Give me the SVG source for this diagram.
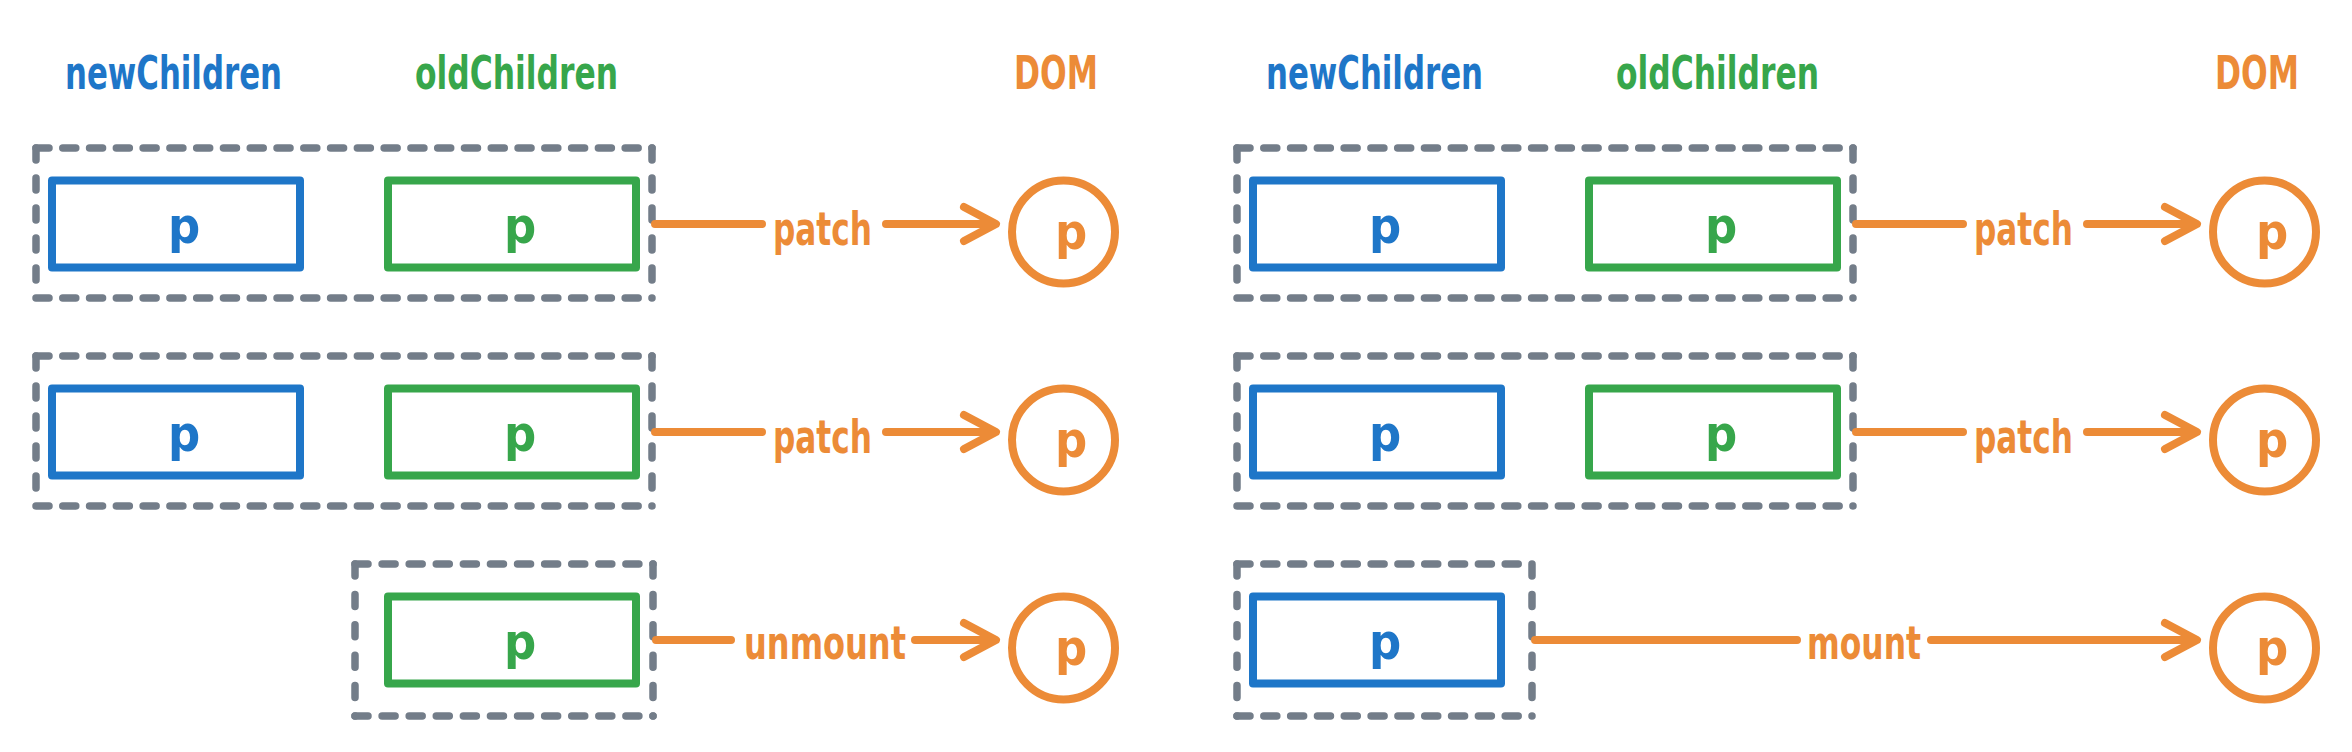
<svg xmlns="http://www.w3.org/2000/svg" width="2352" height="752" viewBox="0 0 2352 752">
<style>
.bg{fill:#ffffff}
.dash{fill:none;stroke:#737d89;stroke-width:7.5;stroke-linecap:round}
.h{stroke-dasharray:13 13.78}
.hs{stroke-dasharray:13 14.09}
.hs2{stroke-dasharray:13 13.82}
.v{stroke-dasharray:12 18}
.v2{stroke-dasharray:12 18.4}
.blue{fill:#ffffff;stroke:#1e76c8;stroke-width:8;stroke-linejoin:round}
.green{fill:#ffffff;stroke:#37a64b;stroke-width:8;stroke-linejoin:round}
.dom{fill:#ffffff;stroke:#ec8b37;stroke-width:8}
.edge{fill:none;stroke:#ec8b37;stroke-width:8;stroke-linecap:round;stroke-linejoin:round}
text{font-family:"Liberation Sans Narrow","DejaVu Sans Condensed","Liberation Sans",sans-serif;font-weight:bold;font-size:46px;text-anchor:middle}
.p{font-size:50px}
.tb{fill:#1e76c8}
.tg{fill:#37a64b}
.to{fill:#ec8b37}
</style>
<rect class="bg" x="0" y="0" width="2352" height="752"/>

<g id="headers">
<text class="tb" x="173.5" y="89" textLength="217" lengthAdjust="spacingAndGlyphs">newChildren</text>
<text class="tg" x="516.5" y="89" textLength="203" lengthAdjust="spacingAndGlyphs">oldChildren</text>
<text class="to" x="1056" y="89" textLength="84" lengthAdjust="spacingAndGlyphs">DOM</text>
<text class="tb" x="1374.5" y="89" textLength="217" lengthAdjust="spacingAndGlyphs">newChildren</text>
<text class="tg" x="1717.5" y="89" textLength="203" lengthAdjust="spacingAndGlyphs">oldChildren</text>
<text class="to" x="2257" y="89" textLength="84" lengthAdjust="spacingAndGlyphs">DOM</text>
</g>

<!-- Left panel -->
<g id="pair-L1">
<line class="dash h" x1="36" y1="148" x2="652" y2="148"/>
<line class="dash h" x1="36" y1="298" x2="652" y2="298"/>
<line class="dash v" x1="36" y1="148" x2="36" y2="298"/>
<line class="dash v" x1="652" y1="148" x2="652" y2="298"/>
</g>
<g id="new-L1"><rect class="blue" x="52" y="180.5" width="248" height="87"/><text class="tb p" x="184" y="243">p</text></g>
<g id="old-L1"><rect class="green" x="388" y="180.5" width="248" height="87"/><text class="tg p" x="520" y="243">p</text></g>
<g id="dom-L1"><circle class="dom" cx="1063.5" cy="232" r="51.5"/><text class="to p" x="1071" y="249">p</text></g>

<g id="pair-L2">
<line class="dash h" x1="36" y1="356" x2="652" y2="356"/>
<line class="dash h" x1="36" y1="506" x2="652" y2="506"/>
<line class="dash v" x1="36" y1="356" x2="36" y2="506"/>
<line class="dash v" x1="652" y1="356" x2="652" y2="506"/>
</g>
<g id="new-L2"><rect class="blue" x="52" y="388.5" width="248" height="87"/><text class="tb p" x="184" y="451">p</text></g>
<g id="old-L2"><rect class="green" x="388" y="388.5" width="248" height="87"/><text class="tg p" x="520" y="451">p</text></g>
<g id="dom-L2"><circle class="dom" cx="1063.5" cy="440" r="51.5"/><text class="to p" x="1071" y="457">p</text></g>

<g id="pair-L3">
<line class="dash hs" x1="355" y1="564" x2="653" y2="564"/>
<line class="dash hs" x1="355" y1="716" x2="653" y2="716"/>
<line class="dash v2" x1="355" y1="564" x2="355" y2="716"/>
<line class="dash v2" x1="653" y1="564" x2="653" y2="716"/>
</g>
<g id="old-L3"><rect class="green" x="388" y="596.5" width="248" height="87"/><text class="tg p" x="520" y="659">p</text></g>
<g id="dom-L3"><circle class="dom" cx="1063.5" cy="648" r="51.5"/><text class="to p" x="1071" y="665">p</text></g>

<!-- Right panel -->
<g id="pair-R1">
<line class="dash h" x1="1237" y1="148" x2="1853" y2="148"/>
<line class="dash h" x1="1237" y1="298" x2="1853" y2="298"/>
<line class="dash v" x1="1237" y1="148" x2="1237" y2="298"/>
<line class="dash v" x1="1853" y1="148" x2="1853" y2="298"/>
</g>
<g id="new-R1"><rect class="blue" x="1253" y="180.5" width="248" height="87"/><text class="tb p" x="1385" y="243">p</text></g>
<g id="old-R1"><rect class="green" x="1589" y="180.5" width="248" height="87"/><text class="tg p" x="1721" y="243">p</text></g>
<g id="dom-R1"><circle class="dom" cx="2264.5" cy="232" r="51.5"/><text class="to p" x="2272" y="249">p</text></g>

<g id="pair-R2">
<line class="dash h" x1="1237" y1="356" x2="1853" y2="356"/>
<line class="dash h" x1="1237" y1="506" x2="1853" y2="506"/>
<line class="dash v" x1="1237" y1="356" x2="1237" y2="506"/>
<line class="dash v" x1="1853" y1="356" x2="1853" y2="506"/>
</g>
<g id="new-R2"><rect class="blue" x="1253" y="388.5" width="248" height="87"/><text class="tb p" x="1385" y="451">p</text></g>
<g id="old-R2"><rect class="green" x="1589" y="388.5" width="248" height="87"/><text class="tg p" x="1721" y="451">p</text></g>
<g id="dom-R2"><circle class="dom" cx="2264.5" cy="440" r="51.5"/><text class="to p" x="2272" y="457">p</text></g>

<g id="pair-R3">
<line class="dash hs2" x1="1237" y1="564" x2="1532" y2="564"/>
<line class="dash hs2" x1="1237" y1="716" x2="1532" y2="716"/>
<line class="dash v2" x1="1237" y1="564" x2="1237" y2="716"/>
<line class="dash v2" x1="1532" y1="564" x2="1532" y2="716"/>
</g>
<g id="new-R3"><rect class="blue" x="1253" y="596.5" width="248" height="87"/><text class="tb p" x="1385" y="659">p</text></g>
<g id="dom-R3"><circle class="dom" cx="2264.5" cy="648" r="51.5"/><text class="to p" x="2272" y="665">p</text></g>

<g id="connectors">
<path class="edge" d="M655 224H762M886 224H993M964 207L996 224L964 241"/>
<text class="to" x="822.5" y="245" textLength="99" lengthAdjust="spacingAndGlyphs">patch</text>
<path class="edge" d="M655 432H762M886 432H993M964 415L996 432L964 449"/>
<text class="to" x="822.5" y="453" textLength="99" lengthAdjust="spacingAndGlyphs">patch</text>
<path class="edge" d="M656 640H731M915 640H993M964 623L996 640L964 657"/>
<text class="to" x="825" y="659" textLength="162" lengthAdjust="spacingAndGlyphs">unmount</text>

<path class="edge" d="M1856 224H1963M2087 224H2194M2165 207L2197 224L2165 241"/>
<text class="to" x="2023.5" y="245" textLength="99" lengthAdjust="spacingAndGlyphs">patch</text>
<path class="edge" d="M1856 432H1963M2087 432H2194M2165 415L2197 432L2165 449"/>
<text class="to" x="2023.5" y="453" textLength="99" lengthAdjust="spacingAndGlyphs">patch</text>
<path class="edge" d="M1535 640H1797M1931 640H2194M2165 623L2197 640L2165 657"/>
<text class="to" x="1864" y="659" textLength="114" lengthAdjust="spacingAndGlyphs">mount</text>
</g>
</svg>
